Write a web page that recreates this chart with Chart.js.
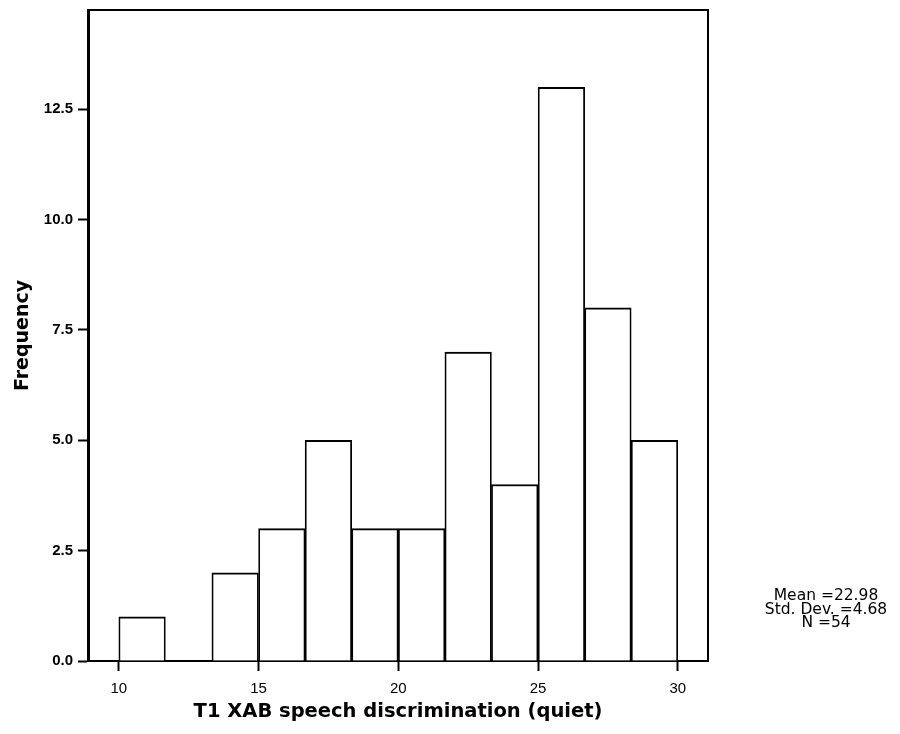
<!DOCTYPE html>
<html><head><meta charset="utf-8">
<script src="https://cdn.jsdelivr.net/npm/chart.js@4/dist/chart.umd.min.js"></script>
<style>html,body{margin:0;padding:0;background:#fff;} #wrap{width:900px;height:734px;position:relative;}</style>
</head><body><div id="wrap"><canvas id="c" width="900" height="734"></canvas></div>
<script>
// Histogram bins (edges) and frequencies
const binEdges = [10, 11.67, 13.33, 15, 16.67, 18.33, 20, 21.67, 23.33, 25, 26.67, 28.33, 30];
const frequencies = [1, 0, 2, 3, 5, 3, 3, 7, 4, 13, 8, 5];
const xTickValues = [10, 15, 20, 25, 30];
const yTickValues = [0, 2.5, 5, 7.5, 10, 12.5];
const statsLines = ['Mean =22.98', 'Std. Dev. =4.68', 'N =54'];
const xTitle = 'T1 XAB speech discrimination (quiet)';
const yTitle = 'Frequency';

const FONT = '"DejaVu Sans", "Liberation Sans", Arial, sans-serif';
const TICKFONT = '"Liberation Sans", Arial, Helvetica, sans-serif';
const points = frequencies.map((f, i) => ({ x: (binEdges[i] + binEdges[i + 1]) / 2, y: f }));

const framePlugin = {
  id: 'frame',
  afterDraw(chart) {
    const { ctx, chartArea: a } = chart;
    ctx.save();
    ctx.strokeStyle = '#000';
    ctx.lineWidth = 2;
    ctx.beginPath();
    ctx.moveTo(a.left, a.top);
    ctx.lineTo(a.right, a.top);
    ctx.lineTo(a.right, a.bottom);
    ctx.stroke();
    ctx.font = '15.5px ' + FONT;
    ctx.fillStyle = '#000';
    ctx.textAlign = 'center';
    ctx.textBaseline = 'alphabetic';
    statsLines.forEach((t, i) => ctx.fillText(t, 826, 600 + i * 13.5));
    ctx.restore();
  }
};

new Chart(document.getElementById('c'), {
  type: 'bar',
  data: {
    datasets: [{
      data: points,
      backgroundColor: '#ffffff',
      borderColor: '#000000',
      borderWidth: { top: 2, left: 1.75, right: 1.75, bottom: 0 },
      borderSkipped: false,
      barPercentage: 1,
      categoryPercentage: 1
    }]
  },
  options: {
    responsive: false,
    animation: false,
    devicePixelRatio: 1,
    layout: { padding: { top: 10, right: 192, bottom: 0, left: 0 } },
    plugins: { legend: { display: false }, tooltip: { enabled: false } },
    scales: {
      x: {
        type: 'linear',
        min: 8.9,
        max: 31.08,
        offset: false,
        afterBuildTicks: s => { s.ticks = xTickValues.map(v => ({ value: v })); },
        afterFit: s => { s.height = 73; s.paddingLeft = 0; s.paddingRight = 0; },
        ticks: { color: '#000', font: { family: TICKFONT, size: 15 }, padding: 9, autoSkip: false, maxRotation: 0 },
        grid: { display: true, offset: false, drawOnChartArea: false, drawTicks: true, tickLength: 10, tickWidth: 2, tickColor: '#000' },
        border: { display: true, color: '#000', width: 2 },
        title: { display: true, text: xTitle, color: '#000', font: { family: FONT, size: 19.5, weight: 'bold', lineHeight: 1.2 }, padding: { top: 0, bottom: 10 } }
      },
      y: {
        type: 'linear',
        min: 0,
        max: 14.75,
        afterBuildTicks: s => { s.ticks = yTickValues.map(v => ({ value: v })); },
        afterFit: s => { s.width = 88; s.paddingTop = 0; s.paddingBottom = 0; },
        ticks: { color: '#000', font: { family: TICKFONT, size: 15, weight: 'bold' }, padding: 5, callback: v => Number(v).toFixed(1) },
        grid: { display: true, drawOnChartArea: false, drawTicks: true, tickLength: 10, tickWidth: 2, tickColor: '#000' },
        border: { display: true, color: '#000', width: 3 },
        title: { display: true, text: yTitle, color: '#000', font: { family: FONT, size: 19, weight: 'bold', lineHeight: 1.2 }, padding: { top: 12, bottom: 0 } }
      }
    }
  },
  plugins: [framePlugin]
});
</script>
</body></html>
